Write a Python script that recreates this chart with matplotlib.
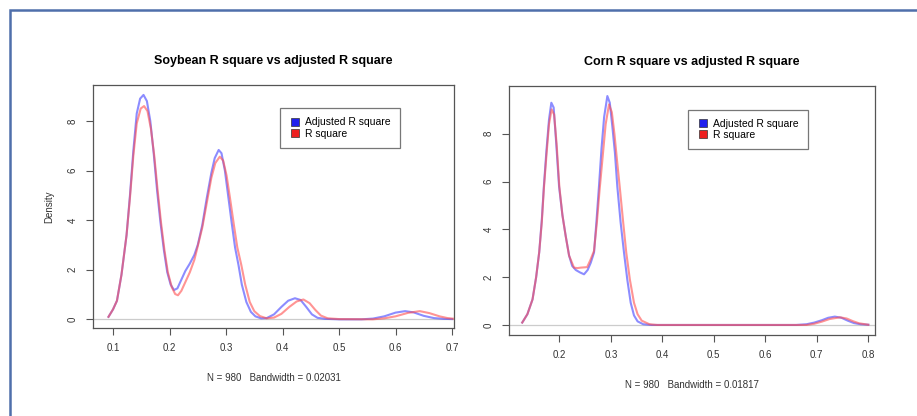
import matplotlib
matplotlib.use("Agg")
import matplotlib.pyplot as plt
from matplotlib.patches import Rectangle
from matplotlib.lines import Line2D

plt.rcParams['font.family'] = ['Liberation Sans', 'DejaVu Sans']

# soybean densities
soy_adj_x = [0.092, 0.100, 0.107, 0.115, 0.124, 0.130, 0.136, 0.142, 0.148, 0.154, 0.160, 0.166,
             0.172, 0.178, 0.184, 0.190, 0.196, 0.202, 0.208, 0.214, 0.220, 0.228, 0.236, 0.244,
             0.250, 0.258, 0.266, 0.274, 0.280, 0.287, 0.292, 0.298, 0.304, 0.310, 0.316, 0.322,
             0.328, 0.336, 0.344, 0.352, 0.362, 0.372, 0.385, 0.398, 0.410, 0.422, 0.432, 0.442,
             0.452, 0.462, 0.475, 0.500, 0.540, 0.560, 0.580, 0.600, 0.617, 0.632, 0.650, 0.668,
             0.685, 0.700]
soy_adj_y = [0.1, 0.4, 0.75, 1.8, 3.4, 5.0, 6.8, 8.3, 8.9, 9.05, 8.8, 8.0,
             6.7, 5.2, 3.9, 2.8, 1.9, 1.4, 1.18, 1.25, 1.55, 1.95, 2.25, 2.6,
             3.0, 3.8, 4.9, 5.9, 6.5, 6.83, 6.7, 6.0, 4.95, 3.9, 2.9, 2.2,
             1.4, 0.7, 0.3, 0.12, 0.04, 0.05, 0.2, 0.5, 0.75, 0.85, 0.78, 0.5,
             0.2, 0.06, 0.02, 0.0, 0.0, 0.03, 0.12, 0.27, 0.33, 0.28, 0.14, 0.05,
             0.02, 0.01]
soy_r2_x = [0.092, 0.100, 0.107, 0.115, 0.124, 0.130, 0.136, 0.142, 0.149, 0.155, 0.161, 0.167,
            0.173, 0.179, 0.185, 0.191, 0.197, 0.204, 0.210, 0.215, 0.221, 0.228, 0.236, 0.244,
            0.250, 0.258, 0.266, 0.274, 0.281, 0.289, 0.295, 0.301, 0.307, 0.314, 0.320, 0.327,
            0.334, 0.342, 0.350, 0.360, 0.372, 0.385, 0.398, 0.412, 0.425, 0.437, 0.448, 0.458,
            0.468, 0.480, 0.500, 0.560, 0.580, 0.600, 0.622, 0.643, 0.660, 0.678, 0.692, 0.705]
soy_r2_y = [0.1, 0.4, 0.75, 1.8, 3.4, 4.9, 6.6, 7.9, 8.5, 8.6, 8.4, 7.7,
            6.6, 5.2, 3.9, 2.8, 1.9, 1.3, 1.02, 0.97, 1.15, 1.5, 1.9, 2.4,
            2.95, 3.7, 4.7, 5.7, 6.3, 6.56, 6.4, 5.8, 4.9, 3.8, 2.9, 2.2,
            1.4, 0.7, 0.33, 0.13, 0.04, 0.07, 0.22, 0.5, 0.72, 0.8, 0.65, 0.38,
            0.15, 0.04, 0.01, 0.0, 0.04, 0.12, 0.26, 0.33, 0.25, 0.12, 0.05, 0.02]

# corn densities
corn_adj_x = [0.128, 0.138, 0.148, 0.155, 0.161, 0.166, 0.170, 0.175, 0.180, 0.1845, 0.189, 0.194,
              0.1995, 0.206, 0.2124, 0.219, 0.225, 0.232, 0.240, 0.248, 0.255, 0.261, 0.2674, 0.272,
              0.277, 0.282, 0.287, 0.2933, 0.298, 0.303, 0.308, 0.3126, 0.319, 0.3256, 0.332, 0.3386,
              0.345, 0.352, 0.363, 0.380, 0.660, 0.680, 0.695, 0.710, 0.722, 0.735, 0.748, 0.760,
              0.772, 0.785, 0.800]
corn_adj_y = [0.1, 0.45, 1.07, 2.0, 3.05, 4.4, 5.8, 7.3, 8.6, 9.3, 9.1, 7.6,
              5.8, 4.6, 3.72, 2.9, 2.47, 2.3, 2.2, 2.12, 2.3, 2.6, 3.03, 4.3,
              5.8, 7.4, 8.7, 9.58, 9.3, 8.3, 7.2, 5.8, 4.3, 3.03, 1.9, 0.93,
              0.4, 0.15, 0.03, 0.0, 0.0, 0.03, 0.1, 0.2, 0.3, 0.35, 0.3, 0.18,
              0.08, 0.03, 0.01]
corn_r2_x = [0.128, 0.138, 0.148, 0.155, 0.161, 0.166, 0.170, 0.175, 0.180, 0.185, 0.190, 0.195,
             0.200, 0.206, 0.2124, 0.219, 0.2285, 0.235, 0.242, 0.254, 0.260, 0.2674, 0.273, 0.278,
             0.284, 0.290, 0.2965, 0.302, 0.307, 0.312, 0.3172, 0.324, 0.330, 0.337, 0.345, 0.352,
             0.360, 0.375, 0.390, 0.680, 0.695, 0.710, 0.725, 0.745, 0.758, 0.770, 0.782, 0.800]
corn_r2_y = [0.1, 0.45, 1.07, 2.0, 3.05, 4.3, 5.7, 7.1, 8.4, 9.02, 8.8, 7.5,
             5.8, 4.6, 3.72, 2.9, 2.4, 2.38, 2.4, 2.42, 2.7, 3.1, 4.3, 5.6,
             7.0, 8.4, 9.23, 8.9, 8.0, 6.9, 5.8, 4.3, 3.03, 1.9, 0.93, 0.45,
             0.18, 0.03, 0.0, 0.0, 0.05, 0.14, 0.25, 0.32, 0.27, 0.16, 0.07, 0.01]

soy_xticks = [0.1, 0.2, 0.3, 0.4, 0.5, 0.6, 0.7]
corn_xticks = [0.2, 0.3, 0.4, 0.5, 0.6, 0.7, 0.8]
yticks = [0, 2, 4, 6, 8]

fig = plt.figure(figsize=(9.17, 4.16), dpi=100)

# document frame
fig.add_artist(Rectangle((10 / 917, -0.05), 1.0, 1 - 10 / 416 + 0.05,
                         transform=fig.transFigure, fill=False,
                         edgecolor='#4f6fab', linewidth=1.8))

ax1 = fig.add_axes([93 / 917, 88 / 416, 361 / 917, 243 / 416])
ax2 = fig.add_axes([509 / 917, 81 / 416, 366 / 917, 249 / 416])

blue = (0.25, 0.25, 1.0, 0.6)
red = (1.0, 0.3, 0.3, 0.6)
grey = '#555555'


def style(ax, title, xlabel, xticks, xlim, ylim, leg_x):
    ax.axhline(0, color='#cccccc', linewidth=0.9, zorder=0)
    ax.set_xlim(*xlim)
    ax.set_ylim(*ylim)
    ax.set_xticks(xticks)
    ax.set_xticklabels([str(t) for t in xticks])
    ax.set_yticks(yticks)
    ax.set_yticklabels([str(t) for t in yticks], rotation=90, va='center')
    ax.tick_params(direction='out', length=5, width=0.8, color=grey,
                   labelsize=7, labelcolor='#333333', pad=6)
    for s in ax.spines.values():
        s.set_color(grey)
        s.set_linewidth(0.9)
    ax.set_title(title, fontsize=9, fontweight='bold', pad=15)
    ax.set_xlabel(xlabel, fontsize=7, color='#333333', labelpad=14)
    handles = [Line2D([], [], marker='s', linestyle='none', markersize=6,
                      markerfacecolor='#2020ee', markeredgecolor='#333333', markeredgewidth=0.5),
               Line2D([], [], marker='s', linestyle='none', markersize=6,
                      markerfacecolor='#ee2020', markeredgecolor='#333333', markeredgewidth=0.5)]
    leg = ax.legend(handles, ['Adjusted R square', 'R square'], loc='upper left',
                    bbox_to_anchor=(leg_x, 0.905), borderaxespad=0, fontsize=7.5,
                    frameon=True, fancybox=False, handlelength=1.0, handletextpad=0.5,
                    borderpad=0.9, labelspacing=0.1)
    leg.get_frame().set_edgecolor(grey)
    leg.get_frame().set_linewidth(0.9)


ax1.plot(soy_adj_x, soy_adj_y, color=blue, linewidth=1.5)
ax1.plot(soy_r2_x, soy_r2_y, color=red, linewidth=1.5)
style(ax1, 'Soybean R square vs adjusted R square', 'N = 980   Bandwidth = 0.02031',
      soy_xticks, (0.0646, 0.7035), (-0.35, 9.45), 0.518)
ax1.set_ylabel('Density', fontsize=7, color='#333333', labelpad=10)

ax2.plot(corn_adj_x, corn_adj_y, color=blue, linewidth=1.5)
ax2.plot(corn_r2_x, corn_r2_y, color=red, linewidth=1.5)
style(ax2, 'Corn R square vs adjusted R square', 'N = 980   Bandwidth = 0.01817',
      corn_xticks, (0.1023, 0.813), (-0.42, 10.0), 0.489)

fig.savefig('out.png', dpi=100)
